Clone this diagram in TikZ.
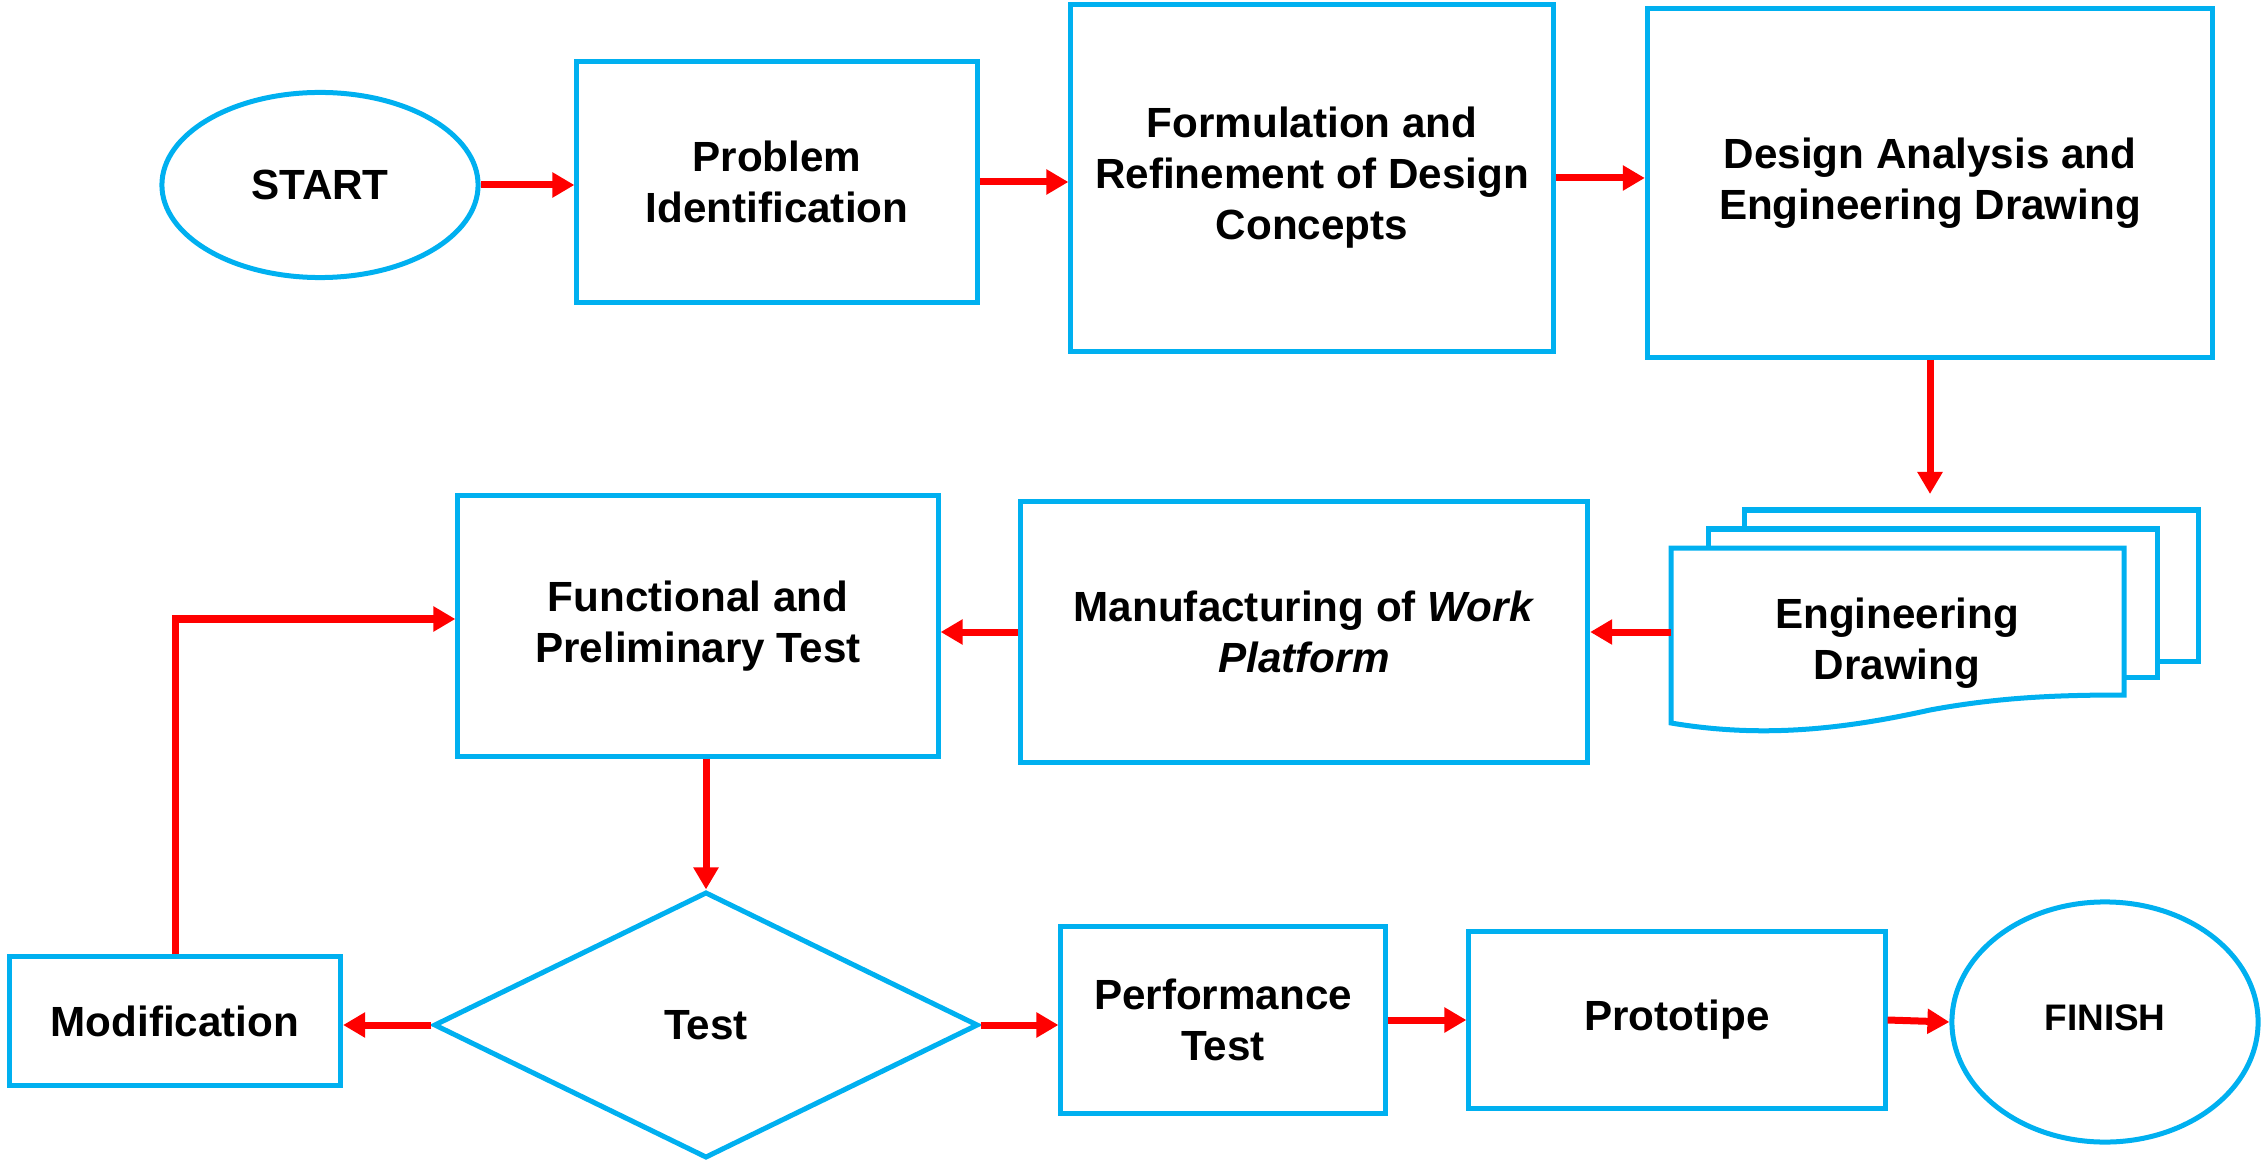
\documentclass[tikz,border=0pt]{standalone}
\usepackage{fontspec}
\setmainfont{Liberation Sans}
\usetikzlibrary{arrows.meta,shapes.geometric}
\definecolor{boxblue}{RGB}{0,176,240}
\definecolor{arrred}{RGB}{255,0,0}
\tikzset{
  box/.style={draw=boxblue, line width=0.05cm, fill=white, rectangle, align=center,
    inner sep=0pt, font=\fontsize{12}{14.5}\selectfont\bfseries},
  oval/.style={draw=boxblue, line width=0.05cm, fill=white, ellipse, align=center,
    inner sep=0pt, font=\fontsize{12}{14.5}\selectfont\bfseries},
  dia/.style={draw=boxblue, line width=0.05cm, fill=white, diamond, align=center,
    inner sep=0pt, font=\fontsize{12}{14.5}\selectfont\bfseries},
  page/.style={draw=boxblue, line width=0.05cm, fill=white},
  arr/.style={draw=arrred, line width=0.07cm, -{Triangle[length=0.22cm,width=0.24cm]}},
}
\begin{document}
\begin{tikzpicture}[x=0.01cm,y=-0.01cm]
\useasboundingbox (0,0) rectangle (2267,1161);

% top row
\node[oval, minimum width=3.16cm, minimum height=1.85cm] (start) at (320,185) {START};
\node[box, minimum width=4cm, minimum height=2.4cm] (prob) at (777,182) {Problem\\Identification};
\node[box, minimum width=4.82cm, minimum height=3.47cm] (form) at (1312,178) {Formulation and\\Refinement of Design\\Concepts};
\node[box, minimum width=5.65cm, minimum height=3.48cm] (des) at (1930,183) {Design Analysis and\\Engineering Drawing};

% multi-document
\draw[page] (1744,510) rectangle (2198,661);
\draw[page] (1708,529) rectangle (2157,677);
\draw[page] (1671,548) -- (2124,548) -- (2124,695)
  .. controls (2060,695) and (2000,697) .. (1930,710)
  .. controls (1840,730) and (1760,738) .. (1671,723) -- cycle;
\node[font=\fontsize{12}{14.5}\selectfont\bfseries, align=center] (ed) at (1897,643) {Engineering\\Drawing};
\coordinate (edw) at (1671,632);
\coordinate (edtop) at (1930,494);

% middle row
\node[box, minimum width=5.67cm, minimum height=2.6cm] (manu) at (1304,632) {Manufacturing of \textit{Work}\\\textit{Platform}};
\node[box, minimum width=4.8cm, minimum height=2.6cm] (func) at (698,626) {Functional and\\Preliminary Test};

% bottom row
\node[dia, minimum width=5.44cm, minimum height=2.66cm] (test) at (706,1025) {Test};
\node[box, minimum width=3.31cm, minimum height=1.29cm] (mod) at (175,1021) {Modification};
\node[box, minimum width=3.24cm, minimum height=1.86cm] (perf) at (1223,1020) {Performance\\Test};
\node[box, minimum width=4.16cm, minimum height=1.77cm] (proto) at (1677,1020) {Prototipe};
\node[oval, minimum width=3.06cm, minimum height=2.4cm, font=\fontsize{10.5}{12}\selectfont\bfseries] (fin) at (2105,1022) {\raisebox{0.08cm}{FINISH}};

% connectors
\draw[arr] (start.east) -- (start.east -| prob.west);
\draw[arr] (prob.east) -- (prob.east -| form.west);
\draw[arr] (form.east) -- (form.east -| des.west);
\draw[arr] (des.south) -- (edtop);
\draw[arr] (edw) -- (edw -| manu.east);
\draw[arr] (manu.west) -- (manu.west -| func.east);
\draw[arr] (test.north |- func.south) -- (test.north);
\draw[arr] (test.west) -- (test.west -| mod.east);
\draw[arr] (mod.north) |- ([yshift=0.07cm]func.west);
\draw[arr] (test.east) -- (test.east -| perf.west);
\draw[arr] (perf.east) -- (perf.east -| proto.west);
\draw[arr] (proto.east) -- (fin.west);
\end{tikzpicture}
\end{document}
